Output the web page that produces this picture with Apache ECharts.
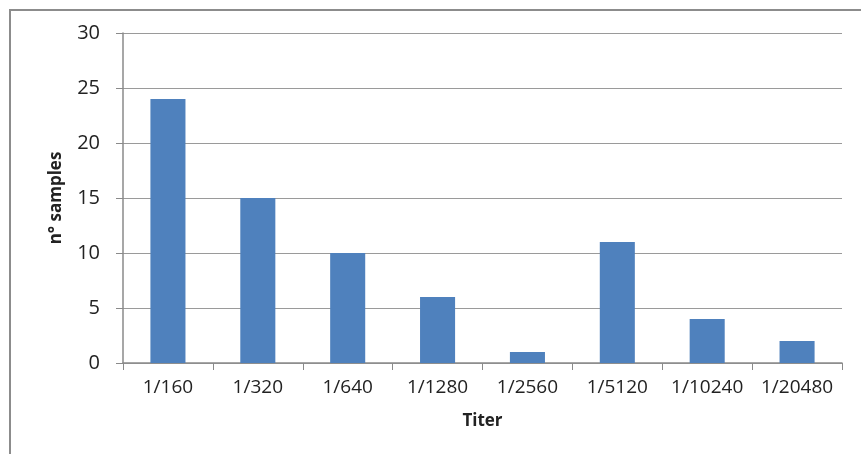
<!DOCTYPE html>
<html><head><meta charset="utf-8">
<script src="https://cdn.jsdelivr.net/npm/echarts@6/dist/echarts.min.js"></script>
<style>html,body{margin:0;padding:0;background:#fff}#c{width:861px;height:454px}</style>
</head><body><div id="c"></div>
<script>
const categories = ['1/160','1/320','1/640','1/1280','1/2560','1/5120','1/10240','1/20480'];
const samples = [24, 15, 10, 6, 1, 11, 4, 2];
const yTicks = {min: 0, max: 30, interval: 5};
const font = '"Open Sans", "Liberation Sans", sans-serif';
const chart = echarts.init(document.getElementById('c'), null, {renderer: 'canvas'});
chart.setOption({
  animation: false,
  backgroundColor: '#fff',
  graphic: [{type: 'rect', shape: {x: 10, y: 10, width: 900, height: 500}, style: {fill: 'none', stroke: '#8c8c8c', lineWidth: 2}, silent: true}],
  grid: {left: 123, right: 19, top: 33, bottom: 91},
  xAxis: {
    type: 'category', data: categories,
    name: 'Titer', nameLocation: 'middle', nameGap: 50,
    nameTextStyle: {fontFamily: font, fontSize: 17, fontWeight: 'bold', color: '#222'},
    axisLine: {lineStyle: {color: '#8a8a8a', width: 1.5}},
    axisTick: {show: true, interval: 0, length: 7, alignWithLabel: false, lineStyle: {color: '#8a8a8a'}},
    axisLabel: {interval: 0, hideOverlap: false, fontFamily: font, fontSize: 19, color: '#222', margin: 15}
  },
  yAxis: {
    type: 'value', min: yTicks.min, max: yTicks.max, interval: yTicks.interval,
    name: 'n° samples', nameLocation: 'middle', nameGap: 58, nameRotate: 90,
    nameTextStyle: {fontFamily: font, fontSize: 17, fontWeight: 'bold', color: '#222'},
    axisLine: {show: true, lineStyle: {color: '#8a8a8a', width: 1.5}},
    axisTick: {show: true, length: 7, lineStyle: {color: '#8a8a8a'}},
    axisLabel: {fontFamily: font, fontSize: 20, color: '#222', margin: 23},
    splitLine: {lineStyle: {color: '#9a9a9a', width: 1.2}}
  },
  series: [{type: 'bar', data: samples, barWidth: '39%', itemStyle: {color: '#4F81BD'}}]
});
</script></body></html>
